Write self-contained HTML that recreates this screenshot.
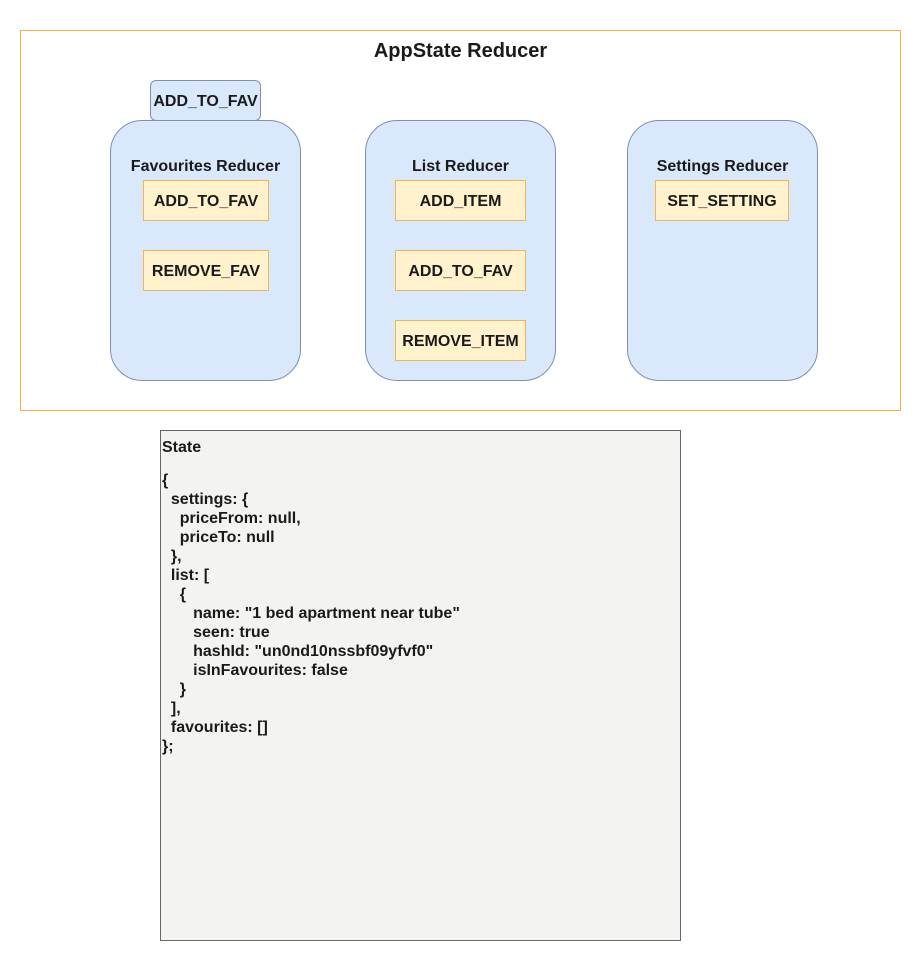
<!DOCTYPE html>
<html><head><style>
body{margin:0;width:923px;height:973px;background:#fff;font-family:"Liberation Sans",sans-serif;font-weight:bold;color:#1a1a1a;position:relative;overflow:hidden}
div{position:absolute;box-sizing:border-box}
.red{background:#dae8fc;border:1px solid #7d8fb3;border-radius:32px}
.y{background:#fff2cc;border:1px solid #f0b654;display:flex;align-items:center;justify-content:center;font-size:16px;padding-top:2px}
.t{font-size:16px;text-align:center}
pre{position:absolute;margin:0;font-family:'Liberation Sans',sans-serif;font-weight:bold;font-size:16px;line-height:19px;color:#1a1a1a}
</style></head><body>
<div style="left:20px;top:30px;width:881px;height:381px;border:1px solid #f5b041"></div>
<div class="t" style="left:20px;top:40px;width:881px;font-size:20px">AppState Reducer</div>
<div style="left:150px;top:80px;width:111px;height:41px;background:#dae8fc;border:1px solid #7d8fb3;border-radius:6px;display:flex;align-items:center;justify-content:center;font-size:16px;padding-top:2px">ADD_TO_FAV</div>
<div class="red" style="left:110px;top:120px;width:191px;height:261px"></div>
<div class="red" style="left:365px;top:120px;width:191px;height:261px"></div>
<div class="red" style="left:627px;top:120px;width:191px;height:261px"></div>
<div class="t" style="left:110px;top:158px;width:191px">Favourites Reducer</div>
<div class="t" style="left:365px;top:158px;width:191px">List Reducer</div>
<div class="t" style="left:627px;top:158px;width:191px">Settings Reducer</div>
<div class="y" style="left:143px;top:180px;width:126px;height:41px">ADD_TO_FAV</div>
<div class="y" style="left:143px;top:250px;width:126px;height:41px">REMOVE_FAV</div>
<div class="y" style="left:395px;top:180px;width:131px;height:41px">ADD_ITEM</div>
<div class="y" style="left:395px;top:250px;width:131px;height:41px">ADD_TO_FAV</div>
<div class="y" style="left:395px;top:320px;width:131px;height:41px">REMOVE_ITEM</div>
<div class="y" style="left:655px;top:180px;width:134px;height:41px">SET_SETTING</div>
<div style="left:160px;top:430px;width:521px;height:511px;background:#f3f4f1;border:1px solid #666"></div>
<pre style="left:162px;top:438px">State</pre>
<pre style="left:162px;top:471px">{
  settings: {
    priceFrom: null,
    priceTo: null
  },
  list: [
    {
       name: "1 bed apartment near tube"
       seen: true
       hashId: "un0nd10nssbf09yfvf0"
       isInFavourites: false
    }
  ],
  favourites: []
};</pre>
</body></html>
